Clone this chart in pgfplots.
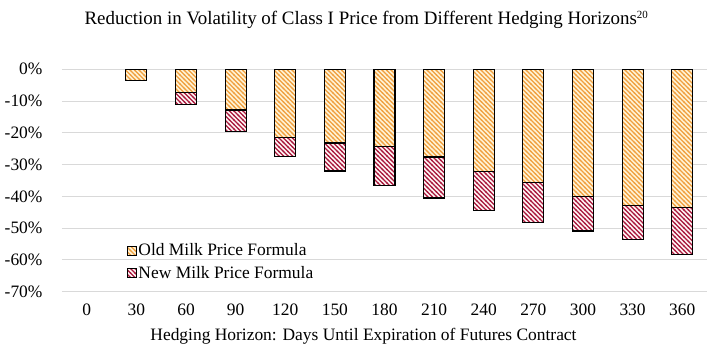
\documentclass[border=0pt]{standalone}
\usepackage{fontspec}
\setmainfont{Liberation Serif}
\usepackage{pgfplots}
\pgfplotsset{compat=1.18}
\usetikzlibrary{patterns}
\pgfdeclarepatternformonly{mylines}{\pgfqpoint{-1bp}{-1bp}}{\pgfqpoint{5.5bp}{5.5bp}}{\pgfqpoint{4.5bp}{4.5bp}}{%
  \pgfsetlinewidth{1.2bp}%
  \pgfpathmoveto{\pgfqpoint{-0.5bp}{5bp}}%
  \pgfpathlineto{\pgfqpoint{5bp}{-0.5bp}}%
  \pgfusepath{stroke}}
\definecolor{oldline}{HTML}{F0A040}
\definecolor{oldbg}{HTML}{FFF3D6}
\definecolor{newline}{HTML}{A8183C}
\definecolor{newbg}{HTML}{FFF4F4}
\definecolor{gridc}{HTML}{D9D9D9}
\begin{document}
\begin{tikzpicture}
\begin{axis}[
  name=ax,
  scale only axis,
  width=645bp, height=222.4bp,
  xmin=-0.5, xmax=12.5,
  ymin=-70, ymax=0,
  axis line style={draw=none},
  major tick length=0pt,
  ymajorgrids, grid style={gridc, line width=1pt},
  xtick={0,1,2,3,4,5,6,7,8,9,10,11,12},
  xticklabels={0,30,60,90,120,150,180,210,240,270,300,330,360},
  ytick={-70,-60,-50,-40,-30,-20,-10,0},
  yticklabels={-70\%,-60\%,-50\%,-40\%,-30\%,-20\%,-10\%,0\%},
  ticklabel style={font=\fontsize{17.5}{21}\selectfont},
  yticklabel style={xshift=-16bp},
  xticklabel style={yshift=-9bp},
  xlabel={Hedging Horizon: Days Until Expiration of Futures Contract},
  xlabel style={font=\fontsize{17.5}{21}\selectfont, yshift=-5bp, xshift=-21bp},
  ybar, bar width=21bp,
  legend style={draw=none, fill=none, at={(rel axis cs:0.1,0.225)}, anchor=north west,
    font=\fontsize{17.5}{21}\selectfont, row sep=4.5bp, inner sep=0pt},
  legend cell align=left,
  reverse legend,
  legend image code/.code={\draw[#1,draw=black,line width=0.8pt] (0bp,-4.5bp) rectangle (9bp,4.5bp);},
]
\addplot+[bar shift=0pt, draw=black, line width=1.1pt, preaction={fill=newbg},
  pattern=mylines, pattern color=newline]
  coordinates {(1,-3.4) (2,-11.0) (3,-19.6) (4,-27.4) (5,-32.0) (6,-36.5) (7,-40.5) (8,-44.5) (9,-48.2) (10,-50.9) (11,-53.7) (12,-58.2)};
\addlegendentry{New Milk Price Formula}
\addplot+[bar shift=0pt, draw=black, line width=1.1pt, preaction={fill=oldbg},
  pattern=mylines, pattern color=oldline]
  coordinates {(1,-3.4) (2,-7.4) (3,-12.8) (4,-21.4) (5,-23.2) (6,-24.4) (7,-27.6) (8,-32.2) (9,-35.6) (10,-40.0) (11,-42.8) (12,-43.4)};
\addlegendentry{Old Milk Price Formula}
\end{axis}
\node[anchor=base, font=\fontsize{19}{23}\selectfont] at ([xshift=304.5bp,yshift=44.3bp]ax.north west) {Reduction in Volatility of Class I Price from Different Hedging Horizons\textsuperscript{\fontsize{11}{13}\selectfont 20}};
\pgfresetboundingbox
\path[use as bounding box] ([xshift=-62bp,yshift=-62.3bp]ax.south west) rectangle ([xshift=13bp,yshift=69.3bp]ax.north east);
\end{tikzpicture}
\end{document}
